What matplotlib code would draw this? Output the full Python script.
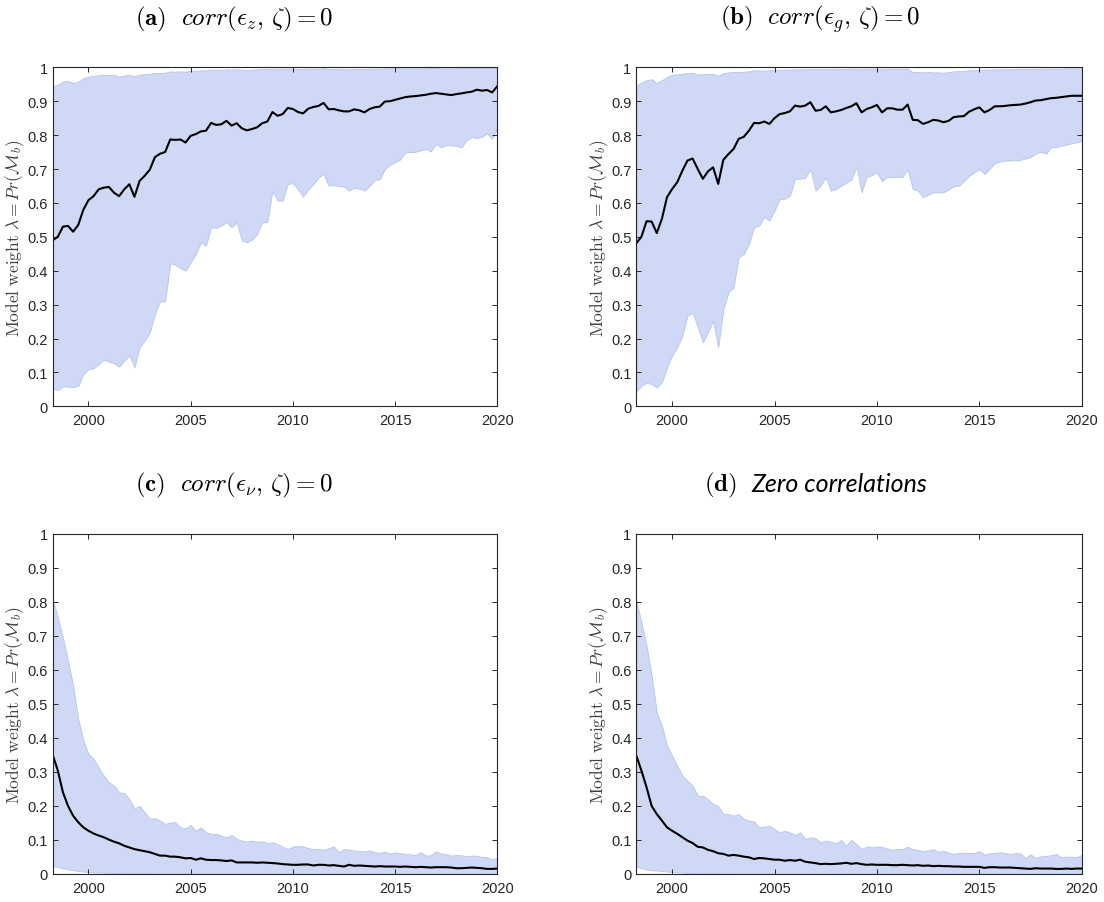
import numpy as np
import matplotlib
matplotlib.use("Agg")
from matplotlib import pyplot as plt

plt.rcParams['mathtext.fontset'] = 'cm'
plt.rcParams['font.family'] = ['Liberation Sans', 'DejaVu Sans']

# quarterly dates, 1998Q2 .. 2020Q1
dates = 1998.25 + 0.25 * np.arange(88)

# (a) corr(eps_z, zeta) = 0
mean_a = [0.490, 0.500, 0.530, 0.532, 0.515, 0.535, 0.580, 0.608, 0.620, 0.640,
          0.645, 0.647, 0.630, 0.620, 0.640, 0.655, 0.618, 0.665, 0.680, 0.698,
          0.735, 0.745, 0.750, 0.787, 0.786, 0.787, 0.778, 0.798, 0.803, 0.811,
          0.813, 0.836, 0.830, 0.832, 0.842, 0.828, 0.835, 0.820, 0.814, 0.818,
          0.823, 0.835, 0.840, 0.868, 0.857, 0.862, 0.880, 0.877, 0.868, 0.864,
          0.878, 0.883, 0.886, 0.895, 0.876, 0.877, 0.873, 0.870, 0.870, 0.876,
          0.873, 0.867, 0.877, 0.882, 0.884, 0.899, 0.900, 0.904, 0.908, 0.912,
          0.914, 0.915, 0.917, 0.919, 0.922, 0.924, 0.922, 0.920, 0.918, 0.921,
          0.923, 0.926, 0.928, 0.934, 0.931, 0.933, 0.926, 0.944]
upper_a = [0.945, 0.948, 0.958, 0.960, 0.953, 0.958, 0.968, 0.973, 0.974, 0.977,
           0.978, 0.977, 0.978, 0.972, 0.976, 0.978, 0.974, 0.978, 0.980, 0.981,
           0.983, 0.983, 0.984, 0.988, 0.987, 0.988, 0.987, 0.990, 0.990, 0.991,
           0.991, 0.993, 0.993, 0.992, 0.994, 0.993, 0.994, 0.993, 0.992, 0.993,
           0.994, 0.995, 0.995, 0.996, 0.995, 0.996, 0.996, 0.996, 0.995, 0.995,
           0.996, 0.996, 0.996, 0.997, 0.995, 0.995, 0.995, 0.994, 0.994, 0.995,
           0.995, 0.995, 0.996, 0.996, 0.996, 0.997, 0.997, 0.997, 0.997, 0.997,
           0.997, 0.997, 0.997, 0.997, 0.998, 0.998, 0.997, 0.997, 0.997, 0.997,
           0.998, 0.998, 0.998, 0.998, 0.998, 0.998, 0.998, 0.998]
lower_a = [0.051, 0.048, 0.059, 0.058, 0.057, 0.061, 0.095, 0.110, 0.112, 0.125,
           0.137, 0.132, 0.127, 0.117, 0.135, 0.150, 0.115, 0.174, 0.194, 0.218,
           0.272, 0.310, 0.310, 0.422, 0.418, 0.408, 0.400, 0.425, 0.449, 0.484,
           0.474, 0.528, 0.526, 0.533, 0.543, 0.528, 0.543, 0.489, 0.484, 0.492,
           0.508, 0.543, 0.543, 0.636, 0.607, 0.607, 0.656, 0.658, 0.640, 0.618,
           0.640, 0.655, 0.675, 0.685, 0.651, 0.652, 0.650, 0.648, 0.636, 0.645,
           0.642, 0.636, 0.650, 0.668, 0.670, 0.700, 0.712, 0.720, 0.728, 0.749,
           0.750, 0.751, 0.755, 0.759, 0.752, 0.774, 0.764, 0.771, 0.770, 0.768,
           0.764, 0.785, 0.794, 0.791, 0.795, 0.805, 0.789, 0.823]

# (b) corr(eps_g, zeta) = 0
mean_b = [0.481, 0.500, 0.546, 0.545, 0.511, 0.553, 0.617, 0.641, 0.661, 0.695,
          0.725, 0.731, 0.700, 0.671, 0.693, 0.705, 0.656, 0.727, 0.744, 0.759,
          0.789, 0.795, 0.813, 0.836, 0.835, 0.840, 0.833, 0.850, 0.862, 0.865,
          0.870, 0.887, 0.884, 0.887, 0.897, 0.872, 0.874, 0.885, 0.867, 0.870,
          0.874, 0.880, 0.885, 0.894, 0.867, 0.877, 0.882, 0.889, 0.867, 0.879,
          0.879, 0.875, 0.875, 0.890, 0.845, 0.844, 0.833, 0.838, 0.845, 0.843,
          0.838, 0.842, 0.853, 0.855, 0.856, 0.869, 0.876, 0.882, 0.867, 0.874,
          0.885, 0.885, 0.886, 0.888, 0.889, 0.890, 0.893, 0.897, 0.902, 0.903,
          0.906, 0.909, 0.910, 0.912, 0.914, 0.916, 0.916, 0.916]
upper_b = [0.946, 0.955, 0.962, 0.965, 0.954, 0.962, 0.972, 0.978, 0.979, 0.981,
           0.983, 0.984, 0.979, 0.979, 0.981, 0.980, 0.975, 0.983, 0.985, 0.986,
           0.986, 0.987, 0.988, 0.991, 0.991, 0.990, 0.991, 0.992, 0.993, 0.993,
           0.993, 0.994, 0.994, 0.994, 0.995, 0.994, 0.995, 0.995, 0.994, 0.995,
           0.995, 0.995, 0.996, 0.996, 0.995, 0.996, 0.996, 0.996, 0.995, 0.996,
           0.996, 0.996, 0.996, 0.996, 0.986, 0.986, 0.985, 0.986, 0.985, 0.985,
           0.984, 0.986, 0.988, 0.989, 0.990, 0.991, 0.992, 0.993, 0.993, 0.993,
           0.994, 0.994, 0.994, 0.994, 0.995, 0.995, 0.995, 0.995, 0.995, 0.996,
           0.996, 0.996, 0.996, 0.996, 0.997, 0.997, 0.997, 0.997]
lower_b = [0.044, 0.061, 0.069, 0.066, 0.056, 0.071, 0.115, 0.149, 0.174, 0.208,
           0.267, 0.277, 0.233, 0.189, 0.218, 0.253, 0.174, 0.287, 0.336, 0.351,
           0.440, 0.449, 0.479, 0.528, 0.533, 0.558, 0.548, 0.577, 0.612, 0.612,
           0.621, 0.671, 0.671, 0.674, 0.700, 0.636, 0.651, 0.676, 0.636, 0.641,
           0.651, 0.660, 0.668, 0.707, 0.631, 0.676, 0.682, 0.690, 0.664, 0.677,
           0.676, 0.676, 0.677, 0.700, 0.641, 0.636, 0.617, 0.624, 0.631, 0.631,
           0.631, 0.640, 0.649, 0.651, 0.665, 0.680, 0.690, 0.700, 0.685, 0.700,
           0.717, 0.722, 0.725, 0.725, 0.726, 0.727, 0.731, 0.735, 0.745, 0.751,
           0.745, 0.764, 0.765, 0.769, 0.772, 0.776, 0.779, 0.782]

# (c) corr(eps_nu, zeta) = 0
mean_c = [0.350, 0.304, 0.240, 0.200, 0.171, 0.152, 0.137, 0.127, 0.119, 0.113,
          0.108, 0.101, 0.095, 0.090, 0.083, 0.078, 0.073, 0.070, 0.067, 0.064,
          0.059, 0.054, 0.054, 0.051, 0.051, 0.049, 0.046, 0.047, 0.042, 0.046,
          0.042, 0.041, 0.041, 0.040, 0.038, 0.040, 0.034, 0.034, 0.034, 0.034,
          0.033, 0.034, 0.033, 0.032, 0.031, 0.029, 0.028, 0.027, 0.027, 0.028,
          0.028, 0.025, 0.027, 0.027, 0.025, 0.026, 0.024, 0.022, 0.027, 0.024,
          0.025, 0.024, 0.023, 0.022, 0.023, 0.022, 0.022, 0.022, 0.021, 0.022,
          0.021, 0.020, 0.021, 0.020, 0.019, 0.020, 0.020, 0.020, 0.019, 0.017,
          0.017, 0.018, 0.019, 0.018, 0.017, 0.015, 0.015, 0.016]
upper_c = [0.808, 0.754, 0.695, 0.627, 0.553, 0.455, 0.392, 0.353, 0.338, 0.313,
           0.289, 0.269, 0.260, 0.240, 0.238, 0.220, 0.193, 0.200, 0.181, 0.162,
           0.164, 0.157, 0.147, 0.152, 0.152, 0.137, 0.134, 0.144, 0.127, 0.137,
           0.122, 0.118, 0.118, 0.113, 0.108, 0.115, 0.103, 0.098, 0.095, 0.098,
           0.095, 0.096, 0.091, 0.093, 0.088, 0.080, 0.073, 0.081, 0.082, 0.081,
           0.076, 0.073, 0.074, 0.071, 0.076, 0.081, 0.064, 0.073, 0.072, 0.069,
           0.068, 0.066, 0.069, 0.064, 0.062, 0.066, 0.060, 0.063, 0.061, 0.059,
           0.058, 0.056, 0.064, 0.054, 0.055, 0.067, 0.060, 0.058, 0.054, 0.056,
           0.055, 0.052, 0.054, 0.054, 0.050, 0.050, 0.042, 0.049]
lower_c = [0.024, 0.020, 0.017, 0.014, 0.011, 0.009, 0.007, 0.006, 0.005, 0.004,
           0.004, 0.003, 0.003, 0.003, 0.002, 0.002, 0.002, 0.002, 0.002, 0.002,
           0.001, 0.001, 0.001, 0.001, 0.001, 0.001, 0.001, 0.001, 0.001, 0.001,
           0.001, 0.001, 0.001, 0.001, 0.001, 0.001, 0.001, 0.001, 0.001, 0.001,
           0.001, 0.001, 0.001, 0.001, 0.001, 0.001, 0.001, 0.001, 0.001, 0.001,
           0.001, 0.001, 0.001, 0.001, 0.001, 0.001, 0.001, 0.001, 0.001, 0.001,
           0.001, 0.001, 0.001, 0.001, 0.001, 0.001, 0.001, 0.001, 0.001, 0.001,
           0.001, 0.001, 0.001, 0.001, 0.001, 0.001, 0.001, 0.001, 0.001, 0.001,
           0.001, 0.001, 0.001, 0.001, 0.001, 0.001, 0.001, 0.001]

# (d) zero correlations
mean_d = [0.348, 0.304, 0.255, 0.200, 0.176, 0.157, 0.137, 0.127, 0.118, 0.108,
          0.098, 0.091, 0.080, 0.078, 0.071, 0.067, 0.061, 0.059, 0.054, 0.056,
          0.054, 0.051, 0.049, 0.044, 0.047, 0.046, 0.044, 0.042, 0.042, 0.039,
          0.041, 0.039, 0.042, 0.036, 0.034, 0.032, 0.029, 0.030, 0.029, 0.030,
          0.031, 0.033, 0.030, 0.032, 0.029, 0.027, 0.028, 0.027, 0.027, 0.027,
          0.026, 0.026, 0.027, 0.026, 0.025, 0.026, 0.024, 0.025, 0.023, 0.024,
          0.023, 0.023, 0.022, 0.022, 0.021, 0.021, 0.021, 0.021, 0.018, 0.020,
          0.020, 0.019, 0.019, 0.019, 0.018, 0.017, 0.016, 0.015, 0.017, 0.016,
          0.016, 0.016, 0.015, 0.015, 0.016, 0.015, 0.016, 0.016]
upper_d = [0.803, 0.739, 0.671, 0.583, 0.475, 0.436, 0.377, 0.348, 0.318, 0.289,
           0.274, 0.260, 0.230, 0.230, 0.220, 0.206, 0.200, 0.176, 0.176, 0.171,
           0.176, 0.162, 0.157, 0.154, 0.137, 0.139, 0.142, 0.132, 0.122, 0.127,
           0.122, 0.115, 0.122, 0.103, 0.108, 0.105, 0.093, 0.098, 0.095, 0.090,
           0.100, 0.083, 0.100, 0.088, 0.073, 0.081, 0.078, 0.081, 0.080, 0.075,
           0.071, 0.073, 0.073, 0.080, 0.073, 0.071, 0.068, 0.069, 0.073, 0.065,
           0.068, 0.063, 0.059, 0.063, 0.062, 0.062, 0.061, 0.067, 0.057, 0.061,
           0.062, 0.064, 0.062, 0.059, 0.061, 0.061, 0.047, 0.058, 0.047, 0.052,
           0.053, 0.055, 0.059, 0.049, 0.051, 0.051, 0.049, 0.056]
lower_d = [0.022, 0.017, 0.013, 0.011, 0.010, 0.009, 0.007, 0.006, 0.005, 0.004,
           0.003, 0.003, 0.002, 0.002, 0.002, 0.002, 0.002, 0.002, 0.001, 0.001,
           0.001, 0.001, 0.001, 0.001, 0.001, 0.001, 0.001, 0.001, 0.001, 0.001,
           0.001, 0.001, 0.001, 0.001, 0.001, 0.001, 0.001, 0.001, 0.001, 0.001,
           0.001, 0.001, 0.001, 0.001, 0.001, 0.001, 0.001, 0.001, 0.001, 0.001,
           0.001, 0.001, 0.001, 0.001, 0.001, 0.001, 0.001, 0.001, 0.001, 0.001,
           0.001, 0.001, 0.001, 0.001, 0.001, 0.001, 0.001, 0.001, 0.001, 0.001,
           0.001, 0.001, 0.001, 0.001, 0.001, 0.001, 0.001, 0.001, 0.001, 0.001,
           0.001, 0.001, 0.001, 0.001, 0.001, 0.001, 0.001, 0.001]

year_ticks = [2000, 2005, 2010, 2015, 2020]
weight_ticks = [0, 0.1, 0.2, 0.3, 0.4, 0.5, 0.6, 0.7, 0.8, 0.9, 1]
weight_labels = ['0', '0.1', '0.2', '0.3', '0.4', '0.5', '0.6', '0.7', '0.8', '0.9', '1']

W, H = 1104, 903
fig = plt.figure(figsize=(W / 100, H / 100), dpi=100)

# axes boxes in pixels: left, top, right, bottom
boxes = [(52.7, 68.3, 497.3, 407.3), (636.3, 68.3, 1081.7, 407.3),
         (52.7, 534.7, 497.3, 875.0), (636.3, 534.7, 1081.7, 875.0)]
panels = [(mean_a, upper_a, lower_a), (mean_b, upper_b, lower_b),
          (mean_c, upper_c, lower_c), (mean_d, upper_d, lower_d)]

fill_col = '#cfd9f6'
edge_col = '#b4c4f1'
axis_col = '#262626'

for (l, t, r, b), (m, up, lo) in zip(boxes, panels):
    ax = fig.add_axes([l / W, 1 - b / H, (r - l) / W, (b - t) / H])
    ax.fill_between(dates, lo, up, facecolor=fill_col, edgecolor=edge_col, linewidth=0.6)
    ax.plot(dates, m, color='black', linewidth=1.5)
    ax.set_xlim(dates[0], dates[-1])
    ax.set_ylim(0, 1)
    ax.set_xticks(year_ticks)
    ax.set_yticks(weight_ticks)
    ax.set_yticklabels(weight_labels)
    ax.tick_params(direction='in', top=True, right=True, length=3.5, width=0.7,
                   colors=axis_col, labelsize=10.5)
    ax.tick_params(axis='x', pad=5)
    ax.tick_params(axis='y', pad=3.5)
    for s in ax.spines.values():
        s.set_color(axis_col)
        s.set_linewidth(0.8)
    ax.set_ylabel(r'$\mathrm{Model\ weight}\ \lambda = Pr(\mathcal{M}_b)$',
                  fontsize=12.5, color='#404040')
    ax.yaxis.set_label_coords(-0.060, 0.5)

# panel captions
cap = dict(fontsize=18, ha='left', va='center')
fig.text(135 / W, 1 - 19 / H, r'$\mathbf{(a)}\ \ corr(\epsilon_z,\,\zeta) = 0$', **cap)
fig.text(720 / W, 1 - 19 / H, r'$\mathbf{(b)}\ \ corr(\epsilon_g,\,\zeta) = 0$', **cap)
fig.text(135 / W, 1 - 485 / H, r'$\mathbf{(c)}\ \ corr(\epsilon_\nu,\,\zeta) = 0$', **cap)
fig.text(704 / W, 1 - 485 / H, r'$\mathbf{(d)}$', **cap)
fig.text(751 / W, 1 - 485 / H, 'Zero correlations', family=['Lato', 'DejaVu Sans'],
         style='italic', **cap)

fig.savefig('out.png', dpi=100)
